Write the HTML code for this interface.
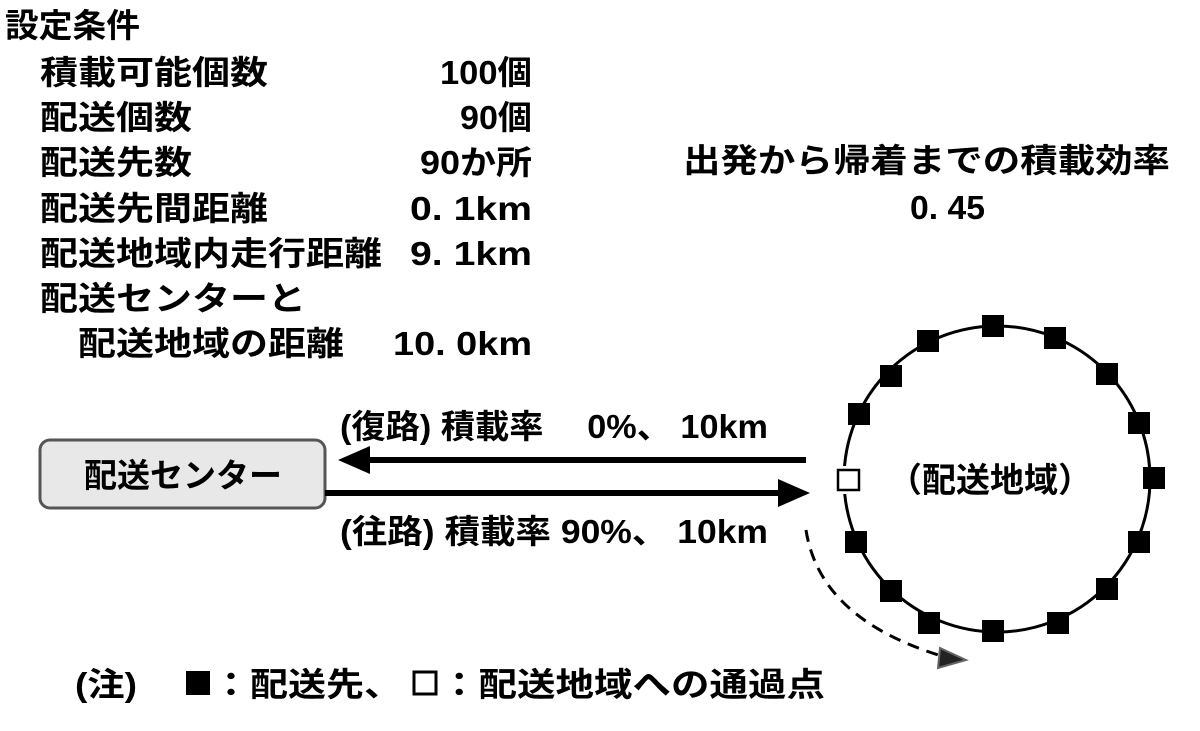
<!DOCTYPE html>
<html><head><meta charset="utf-8"><style>
html,body{margin:0;padding:0;background:#fff;}
svg text{font-family:"Liberation Sans","Noto Sans CJK JP",sans-serif;font-weight:bold;fill:#000;}
</style></head><body>
<svg width="1200" height="726" viewBox="0 0 1200 726" xmlns="http://www.w3.org/2000/svg">
<g font-size="33">
<text x="5" y="37" textLength="135" lengthAdjust="spacingAndGlyphs">設定条件</text>
<text x="40" y="84" textLength="228" lengthAdjust="spacingAndGlyphs">積載可能個数</text>
<text x="40" y="129" textLength="152" lengthAdjust="spacingAndGlyphs">配送個数</text>
<text x="40" y="174" textLength="152" lengthAdjust="spacingAndGlyphs">配送先数</text>
<text x="40" y="220" textLength="228" lengthAdjust="spacingAndGlyphs">配送先間距離</text>
<text x="40" y="265" textLength="342" lengthAdjust="spacingAndGlyphs">配送地域内走行距離</text>
<text x="40" y="310" textLength="266" lengthAdjust="spacingAndGlyphs">配送センターと</text>
<text x="78" y="355" textLength="266" lengthAdjust="spacingAndGlyphs">配送地域の距離</text>
<text x="440" y="84" textLength="92" lengthAdjust="spacingAndGlyphs">100個</text>
<text x="460" y="129" textLength="72" lengthAdjust="spacingAndGlyphs">90個</text>
<text x="420" y="174" textLength="112" lengthAdjust="spacingAndGlyphs">90か所</text>
<text x="410" y="220" textLength="122" lengthAdjust="spacingAndGlyphs">0. 1km</text>
<text x="410" y="265" textLength="122" lengthAdjust="spacingAndGlyphs">9. 1km</text>
<text x="393" y="355" textLength="139" lengthAdjust="spacingAndGlyphs">10. 0km</text>
<text x="683" y="172" textLength="487" lengthAdjust="spacingAndGlyphs">出発から帰着までの積載効率</text>
<text x="910" y="219" textLength="75" lengthAdjust="spacingAndGlyphs">0. 45</text>
<text x="340" y="438" textLength="428" lengthAdjust="spacingAndGlyphs">(復路) 積載率　 0%、 10km</text>
<text x="340" y="543" textLength="428" lengthAdjust="spacingAndGlyphs">(往路) 積載率 90%、 10km</text>
<text x="75" y="696" textLength="62" lengthAdjust="spacingAndGlyphs">(注)</text>
<text x="212" y="696" textLength="190" lengthAdjust="spacingAndGlyphs">：配送先、</text>
<text x="440" y="696" textLength="385" lengthAdjust="spacingAndGlyphs">：配送地域への通過点</text>
</g>
<rect x="186" y="671" width="24" height="24" fill="#000"/>
<rect x="414" y="672" width="22" height="22" fill="#fff" stroke="#000" stroke-width="3"/>
<rect x="40" y="440" width="285" height="68" rx="10" fill="#e8e8e8" stroke="#555" stroke-width="3"/>
<text x="183" y="487" font-size="33" text-anchor="middle">配送センター</text>
<line x1="365" y1="460" x2="806" y2="460" stroke="#000" stroke-width="6"/>
<polygon points="338,460 370,446 370,474" fill="#000"/>
<line x1="325" y1="493" x2="782" y2="493" stroke="#000" stroke-width="6"/>
<polygon points="810,493 778,479 778,507" fill="#000"/>
<circle cx="997" cy="479" r="153" fill="none" stroke="#000" stroke-width="3"/>
<rect x="836" y="466" width="26" height="28" fill="#fff"/>
<rect x="838" y="470" width="21" height="20" fill="#fff" stroke="#000" stroke-width="2.5"/>
<text x="990" y="492" font-size="34" text-anchor="middle">（配送地域）</text>
<path d="M806,530 Q820,620 945,657" fill="none" stroke="#000" stroke-width="3" stroke-dasharray="12,8"/>
<polygon points="966,660 940,648 938,668" fill="#222" stroke="#666" stroke-width="2"/>
<g fill="#000">
<rect x="982" y="315" width="22" height="22"/>
<rect x="1044" y="327" width="22" height="22"/>
<rect x="1096" y="363" width="22" height="22"/>
<rect x="1128" y="412" width="22" height="22"/>
<rect x="1143" y="467" width="22" height="22"/>
<rect x="1128" y="531" width="22" height="22"/>
<rect x="1096" y="578" width="22" height="22"/>
<rect x="1047" y="612" width="22" height="22"/>
<rect x="982" y="620" width="22" height="22"/>
<rect x="918" y="612" width="22" height="22"/>
<rect x="880" y="580" width="22" height="22"/>
<rect x="845" y="531" width="22" height="22"/>
<rect x="848" y="403" width="22" height="22"/>
<rect x="880" y="365" width="22" height="22"/>
<rect x="917" y="330" width="22" height="22"/>
</g>
</svg>
</body></html>
